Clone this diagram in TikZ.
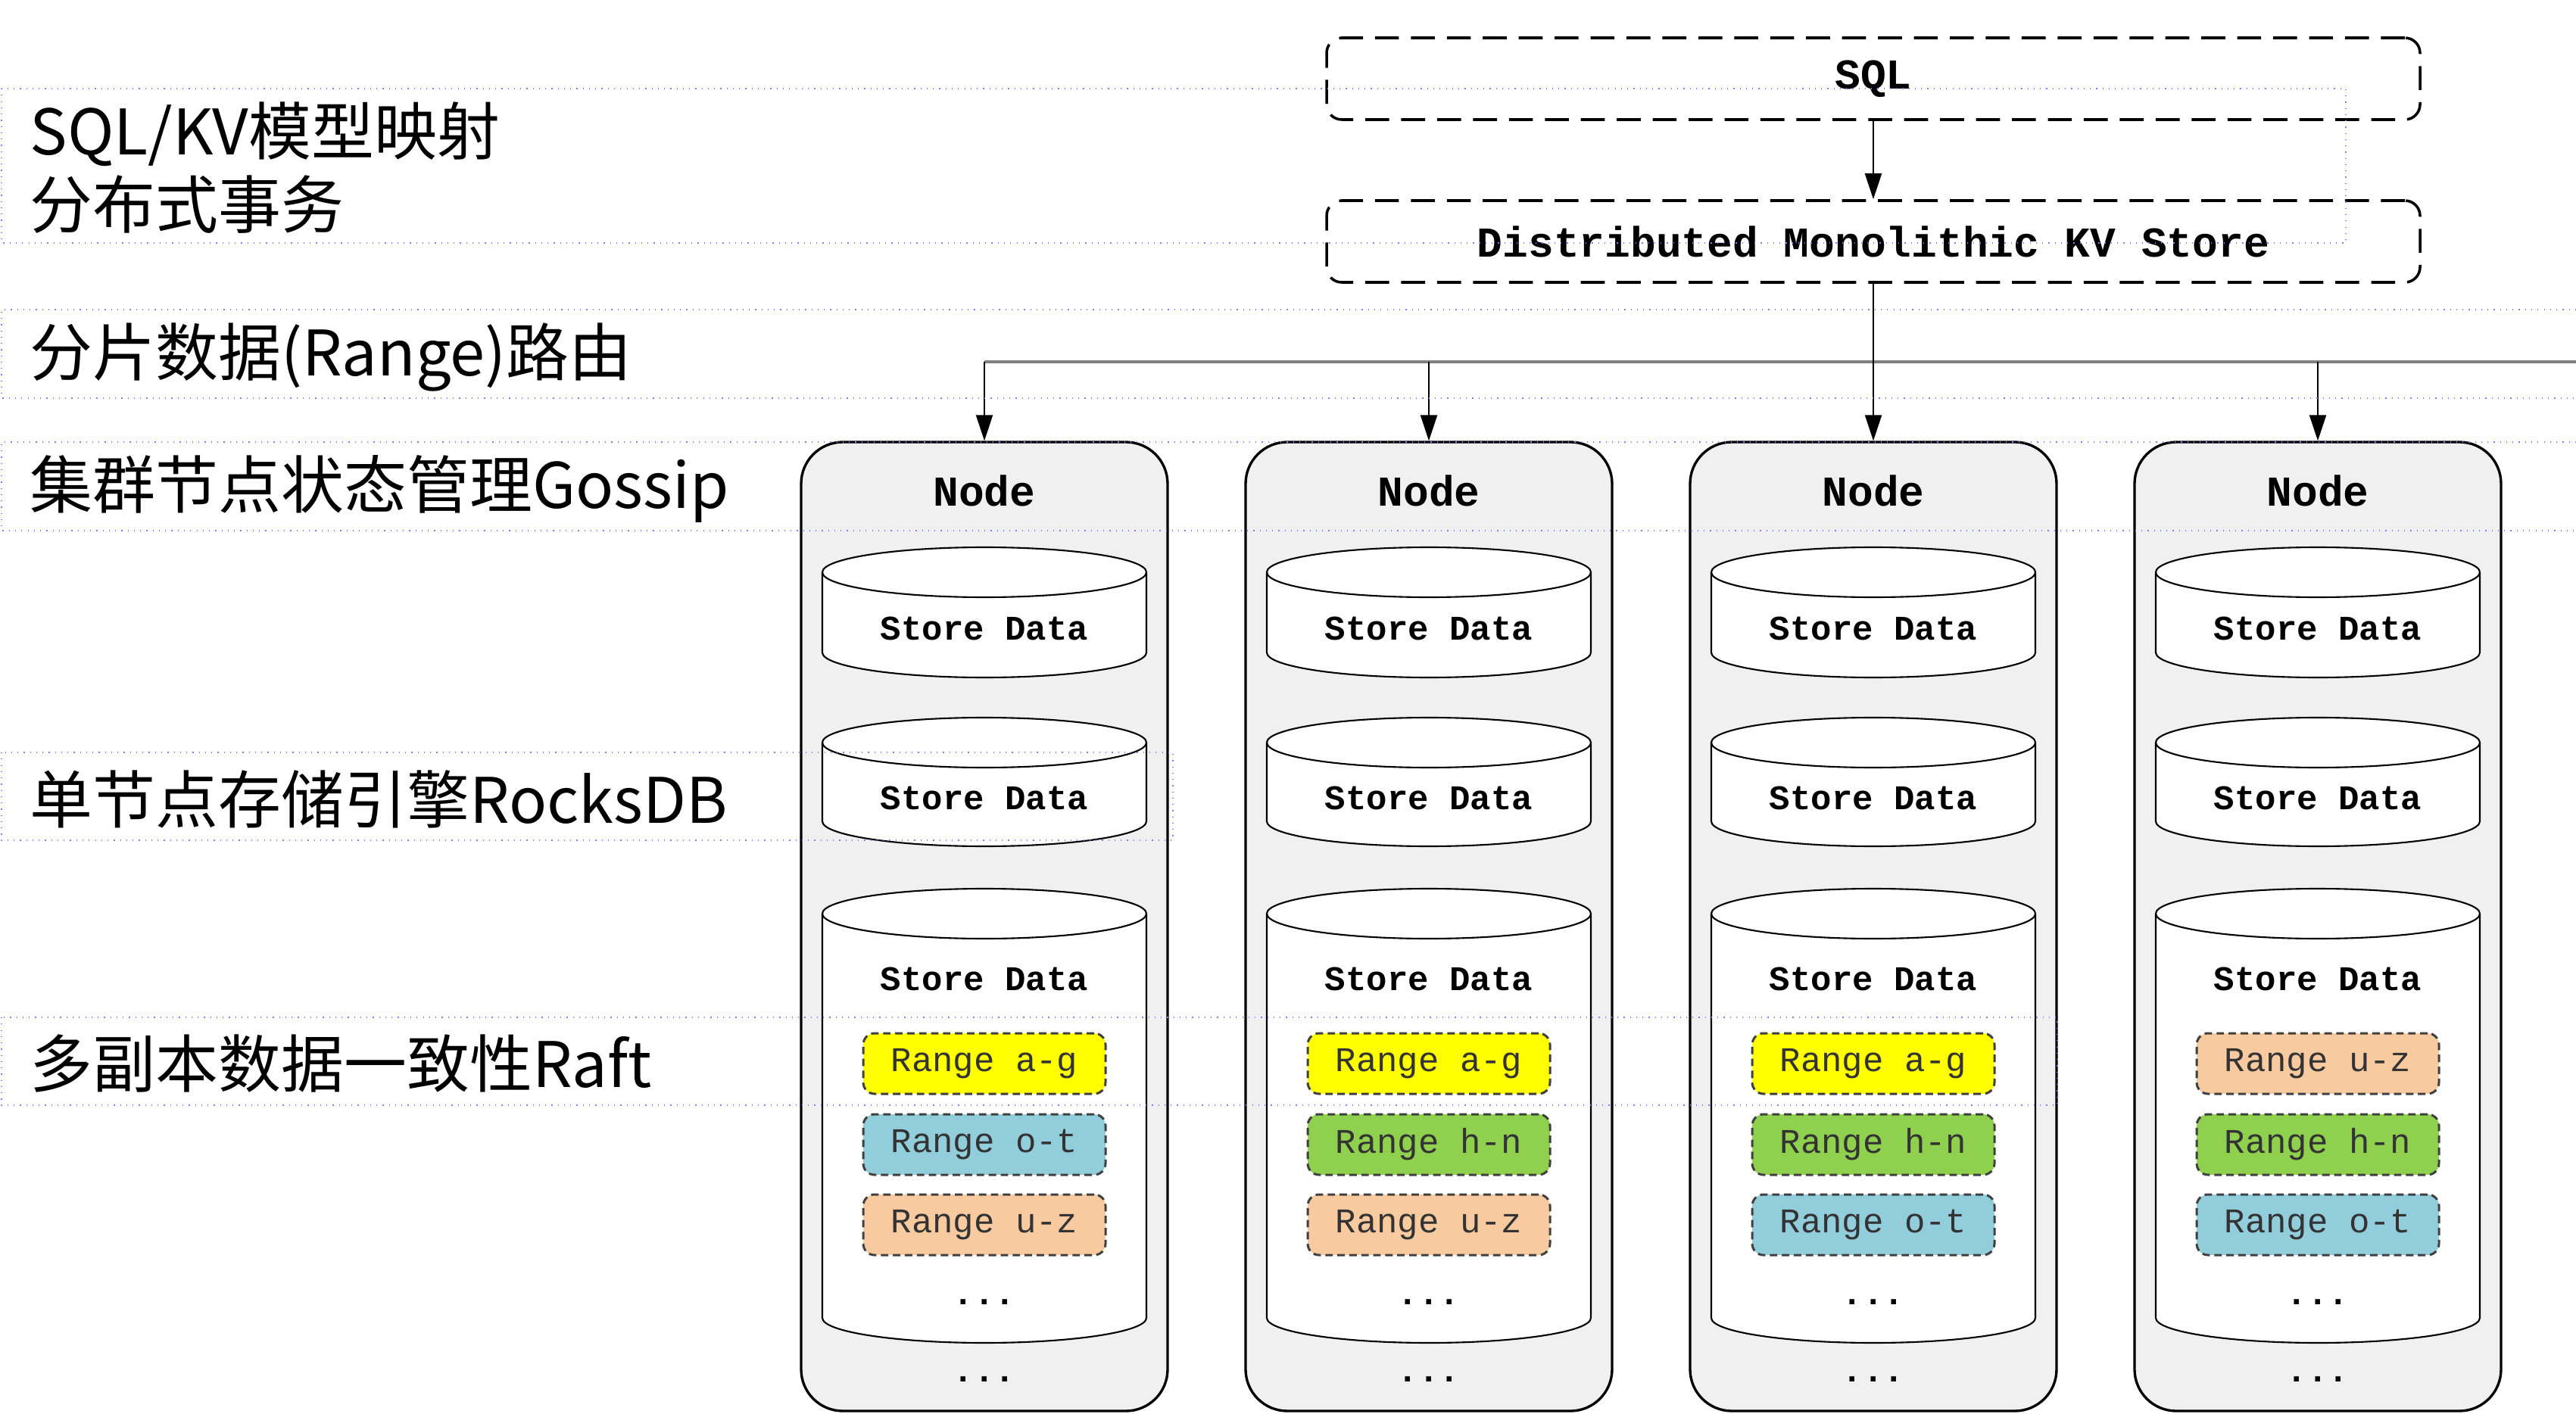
\documentclass[tikz,border=0pt]{standalone}
\usepackage{fontspec}
\setmonofont{Liberation Mono}
\newfontfamily\cjk{Noto Sans CJK SC}
\usetikzlibrary{arrows.meta}

\definecolor{rangeyellow}{HTML}{FFFF00}
\definecolor{rangeblue}{HTML}{92CDDC}
\definecolor{rangegreen}{HTML}{8FD14F}
\definecolor{rangepeach}{HTML}{F8CAA0}
\definecolor{nodegray}{HTML}{F0F0F0}
\definecolor{guideblue}{HTML}{7C7CFF}

\begin{document}
\begin{tikzpicture}[
		>={Triangle[length=3.4mm,width=2.2mm]},
		layerbox/.style={draw,line width=1pt,dash pattern=on 9pt off 4.5pt,rounded corners=0.2cm,minimum width=14.44cm,minimum height=1.08cm,font=\ttfamily\bfseries\fontsize{16}{19}\selectfont},
		server/.style={draw,line width=0.95pt,fill=nodegray,rounded corners=0.55cm,minimum width=4.84cm,minimum height=12.8cm},
		nodetitle/.style={font=\ttfamily\bfseries\fontsize{16}{19}\selectfont},
		storetext/.style={font=\ttfamily\bfseries\fontsize{13}{15}\selectfont},
		rangebox/.style={draw=black!75,line width=0.85pt,dash pattern=on 2.8pt off 1.7pt,rounded corners=0.15cm,minimum width=3.2cm,minimum height=0.8cm,text=black!80,font=\ttfamily\fontsize{13}{15}\selectfont},
		dotstext/.style={font=\ttfamily\bfseries\fontsize{13}{15}\selectfont},
		layerlabel/.style={anchor=west,inner sep=0pt,align=left,font=\cjk\fontsize{23.6}{27.8}\selectfont},
		guidebox/.style={draw=guideblue,dotted,line width=0.35pt},
		busline/.style={draw=black!50,line width=1.4pt},
		storecyl/.pic={
			\draw[line width=0.6pt,fill=white] (-2.14,-0.33) -- (-2.14,-#1+0.33) arc[start angle=180,end angle=360,x radius=2.14,y radius=0.33] -- (2.14,-0.33) arc[start angle=0,end angle=180,x radius=2.14,y radius=0.33] -- cycle;
			\draw[line width=0.6pt] (-2.14,-0.33) arc[start angle=180,end angle=360,x radius=2.14,y radius=0.33];
		}]
		\useasboundingbox (0,0) rectangle (34.02,-18.68);

		\draw (0.39,-2.215) node[layerlabel] (l1) {SQL/KV模型映射\\分布式事务};
		\draw (0.39,-4.72) node[layerlabel] (l2) {分片数据(Range)路由};
		\draw (0.39,-6.46) node[layerlabel] (l3) {集群节点状态管理Gossip};
		\draw (0.39,-10.56) node[layerlabel] (l4) {单节点存储引擎RocksDB};
		\draw (0.39,-14.05) node[layerlabel] (l5) {多副本数据一致性Raft};

		\draw (24.74,-1.04) node[layerbox] (sql) {SQL};
		\draw (24.74,-3.19) node[layerbox] (kv) {Distributed Monolithic KV Store};

		\draw (13.00,-12.24) node[server] (n1) {};
		\draw (13.00,-6.48) node[nodetitle] (n1t) {Node};
		\pic at (13.00,-7.23) {storecyl=1.72};
		\pic at (13.00,-9.48) {storecyl=1.70};
		\pic at (13.00,-11.74) {storecyl=6.00};
		\draw (13.00,-8.30) node[storetext] (n1s1) {Store Data};
		\draw (13.00,-10.54) node[storetext] (n1s2) {Store Data};
		\draw (13.00,-12.93) node[storetext] (n1s3) {Store Data};
		\draw (13.00,-14.05) node[rangebox,fill=rangeyellow] (n1r1) {Range a-g};
		\draw (13.00,-15.12) node[rangebox,fill=rangeblue] (n1r2) {Range o-t};
		\draw (13.00,-16.18) node[rangebox,fill=rangepeach] (n1r3) {Range u-z};
		\draw (13.00,-17.20) node[dotstext] (n1d1) {...};
		\draw (13.00,-18.22) node[dotstext] (n1d2) {...};

		\draw (18.87,-12.24) node[server] (n2) {};
		\draw (18.87,-6.48) node[nodetitle] (n2t) {Node};
		\pic at (18.87,-7.23) {storecyl=1.72};
		\pic at (18.87,-9.48) {storecyl=1.70};
		\pic at (18.87,-11.74) {storecyl=6.00};
		\draw (18.87,-8.30) node[storetext] (n2s1) {Store Data};
		\draw (18.87,-10.54) node[storetext] (n2s2) {Store Data};
		\draw (18.87,-12.93) node[storetext] (n2s3) {Store Data};
		\draw (18.87,-14.05) node[rangebox,fill=rangeyellow] (n2r1) {Range a-g};
		\draw (18.87,-15.12) node[rangebox,fill=rangegreen] (n2r2) {Range h-n};
		\draw (18.87,-16.18) node[rangebox,fill=rangepeach] (n2r3) {Range u-z};
		\draw (18.87,-17.20) node[dotstext] (n2d1) {...};
		\draw (18.87,-18.22) node[dotstext] (n2d2) {...};

		\draw (24.74,-12.24) node[server] (n3) {};
		\draw (24.74,-6.48) node[nodetitle] (n3t) {Node};
		\pic at (24.74,-7.23) {storecyl=1.72};
		\pic at (24.74,-9.48) {storecyl=1.70};
		\pic at (24.74,-11.74) {storecyl=6.00};
		\draw (24.74,-8.30) node[storetext] (n3s1) {Store Data};
		\draw (24.74,-10.54) node[storetext] (n3s2) {Store Data};
		\draw (24.74,-12.93) node[storetext] (n3s3) {Store Data};
		\draw (24.74,-14.05) node[rangebox,fill=rangeyellow] (n3r1) {Range a-g};
		\draw (24.74,-15.12) node[rangebox,fill=rangegreen] (n3r2) {Range h-n};
		\draw (24.74,-16.18) node[rangebox,fill=rangeblue] (n3r3) {Range o-t};
		\draw (24.74,-17.20) node[dotstext] (n3d1) {...};
		\draw (24.74,-18.22) node[dotstext] (n3d2) {...};

		\draw (30.61,-12.24) node[server] (n4) {};
		\draw (30.61,-6.48) node[nodetitle] (n4t) {Node};
		\pic at (30.61,-7.23) {storecyl=1.72};
		\pic at (30.61,-9.48) {storecyl=1.70};
		\pic at (30.61,-11.74) {storecyl=6.00};
		\draw (30.61,-8.30) node[storetext] (n4s1) {Store Data};
		\draw (30.61,-10.54) node[storetext] (n4s2) {Store Data};
		\draw (30.61,-12.93) node[storetext] (n4s3) {Store Data};
		\draw (30.61,-14.05) node[rangebox,fill=rangepeach] (n4r1) {Range u-z};
		\draw (30.61,-15.12) node[rangebox,fill=rangegreen] (n4r2) {Range h-n};
		\draw (30.61,-16.18) node[rangebox,fill=rangeblue] (n4r3) {Range o-t};
		\draw (30.61,-17.20) node[dotstext] (n4d1) {...};
		\draw (30.61,-18.22) node[dotstext] (n4d2) {...};

		\coordinate (b1) at (13.00,-4.78);
		\coordinate (b2) at (18.87,-4.78);
		\coordinate (b4) at (30.61,-4.78);
		\coordinate (bend) at (34.02,-4.78);
		\draw[busline] (b1) -- (bend);

		\path[->,line width=0.6pt]
			(sql)	edge	(kv)
			(kv)	edge	(n3)
			(b1)	edge	(n1)
			(b2)	edge	(n2)
			(b4)	edge	(n4);

		\draw[guidebox] (0.02,-1.17) rectangle (30.98,-3.21);
		\draw[guidebox] (34.02,-4.09) -| (0.02,-5.26) -- (34.02,-5.26);
		\draw[guidebox] (34.02,-5.84) -| (0.02,-7.01) -- (34.02,-7.01);
		\draw[guidebox] (0.02,-9.94) rectangle (15.49,-11.10);
		\draw[guidebox] (0.02,-13.44) rectangle (27.17,-14.60);
\end{tikzpicture}
\end{document}
